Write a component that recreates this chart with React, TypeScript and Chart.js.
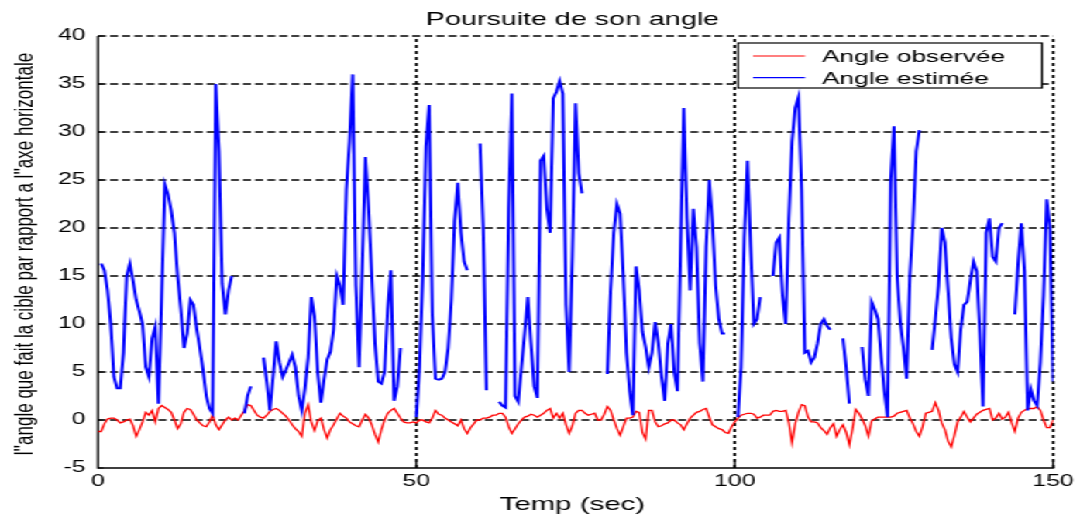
import { useEffect, useRef } from "react";
import { Chart, registerables } from "chart.js";

Chart.register(...registerables);

// The figure is laid out on a narrower canvas and widened horizontally.
const W = 697;
const H = 515;
const STRETCH = 1080 / W;

const FONT = "'Liberation Sans', Arial, Helvetica, sans-serif";

const TITLE = "Poursuite de son angle";
const X_TITLE = "Temp (sec)";
const Y_TITLE = "l''angle que fait la cible par rapport a l''axe horizontale";
const LEGEND_LABELS = ["Angle observée", "Angle estimée"];
const RED = "#ff0000";
const BLUE = "#0000ff";

const X_MIN = 0;
const X_MAX = 150;
const Y_MIN = -5;
const Y_MAX = 40;
const xTicks = [0, 50, 100, 150];
const yTicks = [-5, 0, 5, 10, 15, 20, 25, 30, 35, 40];
const xDividers = [50, 100, 150];

// sampling period of both signals (s)
const STEP = 0.5;

// observed angle, one row = 5 s
const observed = [
  -1.2, -1.2, -0.4, 0.1, 0.2, 0.2, 0, -0.3, -0.2, 0,
  0.1, -0.6, -1.7, -1, -0.2, 0.8, 0.5, 1, -0.2, 1.2,
  1.5, 1.3, 1.1, 0.8, 0, -0.9, -0.4, 0.8, 1.2, 1.1,
  0.6, 0, -0.3, -0.6, -0.7, -0.2, 0.5, -0.5, -1, -0.5,
  0, 0.3, 0, 0.2, 0, 0.5, 1, 1.6, 1.5, 1,
  0.5, 0.3, 0.2, 0.5, 0.9, 1.1, 1.2, 1, 0.7, 0.4,
  0, -0.5, -0.9, -1.2, -1.7, 0.7, 1.6, -0.2, -1.1, -0.1,
  0.2, -1, -1.9, -1, -0.5, 0.1, 0.7, 0.4, 0.2, -0.2,
  -0.4, -0.6, -0.7, 0, 0.6, 0.2, -0.5, -1.5, -2.3, -1,
  0, 0.7, 1, 1.2, 0.7, 0.2, -0.2, -0.3, -0.3, -0.2,
  -0.3, 0, 0, -0.2, -0.3, 0.2, 1, 0.6, 0.5, 0.2,
  0, -0.2, -0.4, -0.6, 0, -0.9, -1.4, -0.8, -0.4, 0,
  0, 0.2, 0.2, 0.3, 0.5, 0.5, 0.7, 0.7, 0.3, -0.7,
  -1.4, -0.9, -0.4, 0, 0.3, 0.4, 0.6, 0.5, 0.3, 0.5,
  0.7, 1, 1.2, 0.2, 0.7, 0.2, 0.7, -0.5, -1.4, -0.6,
  0.7, 1, 1, 0.7, 0.5, 0.6, 0.7, 0, 0, 0.6,
  1.4, 1, 0, -0.9, -1.6, -0.7, 0.2, 0.2, 0.3, 0.9,
  0.8, -1.3, -2, 1, 1, -0.2, -0.7, -0.6, -0.4, -0.3,
  0, 0, -0.3, -0.5, -1, -0.4, 0.2, 0.5, 0.8, 0.9,
  1.1, 1.2, 0.3, -0.5, -0.7, -0.9, -1, -1.3, -1.4, -0.7,
  -0.2, 0.2, 0.5, 0.6, 0.7, 0.7, 0.6, 0.2, 0.3, 0.5,
  0.5, 0.5, 0.9, 1, 0.9, 0.9, 1, -0.3, -2.4, -0.4,
  0.8, 1.6, 1.5, 0.3, -0.2, -0.2, -0.3, -0.8, -1.1, -1.5,
  -0.8, -0.4, -1.7, -1, -0.5, -1.3, -2.6, -0.9, 1.1, 0.7,
  0.1, -0.6, -1.7, -0.1, 0.1, 0.3, 0.3, 0.3, 0.3, 0.3,
  0.4, 0.7, 0.8, 0.9, 1, 0.2, -0.4, -1.2, -1.7, -0.7,
  0.7, 0.8, 0.9, 1.8, 1, -0.3, -1, -2.2, -2.8, -1.6,
  -0.2, 0.3, 0.9, 0.3, -0.2, 0.2, 0.6, 0.8, 1, 1.1,
  1.2, 0, 0.2, 0.7, 0.1, 0.3, 0.8, -0.3, -1.2, 0.2,
  0.8, 1, 1.2, 1.2, 1.2, 1.4, 1, 0, -0.8, -0.8,
  0,
];

// estimated angle, one row = 5 s; null = no estimate (line broken)
const estimated = [
  null, 16.3, 15.6, 13.5, 10, 4.5, 3.3, 3.3, 7, 15,
  16.3, 14.5, 12.5, 11.3, 10, 5.5, 4.5, 8.5, 9.7, 1.7,
  13, 24.5, 23.5, 21.8, 19.5, 15, 11.6, 7.5, 9, 12.5,
  12, 9.5, 7.5, 5.2, 2.5, 1.2, 0.7, 35, 28, 14.2,
  11, 13.5, 15, null, null, null, 0.7, 2.5, 3.5, null,
  null, null, 6.5, 4, 1, 4.5, 8.2, 6, 4.5, 5.2,
  6, 6.8, 5.5, 2.5, 1, 3.3, 6.5, 12.8, 10.8, 5,
  1.8, 4.2, 6.3, 7.1, 9.4, 15, 14, 12, 24, 29,
  36, 14, 5.5, 16, 27.4, 22, 15, 8, 4, 3.8,
  5, 11.5, 15.6, 2, 3.5, 7.5, null, null, null, null,
  0.3, 5.5, 15, 28.5, 32.8, 11, 4.3, 4.2, 4.3, 5,
  7.5, 12.5, 20.7, 24.7, 19.5, 16.5, 15.6, null, null, null,
  28.8, 20, 3.1, null, null, null, 1.9, 1.5, 1.3, 22,
  34, 2.5, 1.9, 5.5, 9, 12.8, 8, 3.5, 2.3, 27,
  27.5, 22, 19.5, 33.5, 34.2, 35.3, 34, 12, 5, 17,
  33, 25.7, 23.6, null, null, null, null, null, null, null,
  4.8, 13.5, 19.5, 22.5, 21.5, 15, 7, 3, 0.5, 16,
  13.5, 9.2, 7.6, 5.5, 7, 10.2, 8, 4.5, 2, 8,
  10, 5, 3, 18, 32.5, 21, 13.5, 22, 18, 8,
  4, 18, 25, 20.5, 14, 10.5, 9, 9, null, null,
  null, 0.3, 5.5, 19, 27, 18, 10, 10.5, 12.8, null,
  null, null, 15, 18.5, 19, 13, 10, 21, 29, 32.5,
  33.6, 24, 7, 7.2, 6, 6.5, 8, 10, 10.5, 9.8,
  9.4, null, null, null, 8.5, 5.5, 1.7, null, null, null,
  7.6, 4.2, 2.5, 12.3, 11.5, 10.5, 6.5, 3, 0.3, 25,
  30.6, 15, 10.2, 7.5, 4.3, 15, 20.5, 28, 30.2, null,
  null, null, 7.3, 10.5, 14, 20, 18.5, 13.5, 8.5, 5.8,
  5, 9.5, 12, 12.3, 14.5, 16.5, 15.5, 9, 1.4, 19.5,
  21, 17, 16.5, 20, 20.5, null, null, null, 11, 16.3,
  20.5, 15.5, 1, 3.2, 2, 1.5, 6, 13, 23, 20,
  4,
];

const toPoints = (values: (number | null)[]) =>
  values.map((v, i) => ({ x: i * STEP, y: v }));

// dashed horizontal grid, dotted time dividers, axes and inner ticks
const framePlugin = {
  id: "frame",
  beforeDatasetsDraw(chart: any) {
    const { ctx, chartArea: a, scales } = chart;
    const xs = scales.x;
    const ys = scales.y;
    ctx.save();
    ctx.strokeStyle = "#000";

    ctx.lineWidth = 1.3;
    ctx.setLineDash([5.2, 2.6]);
    for (const v of yTicks) {
      if (v === Y_MIN) continue;
      const py = ys.getPixelForValue(v);
      ctx.beginPath();
      ctx.moveTo(a.left, py);
      ctx.lineTo(a.right, py);
      ctx.stroke();
    }

    ctx.lineWidth = 1.7;
    ctx.setLineDash([3, 3]);
    for (const v of xDividers) {
      const px = xs.getPixelForValue(v);
      ctx.beginPath();
      ctx.moveTo(px, a.bottom);
      ctx.lineTo(px, a.top);
      ctx.stroke();
    }

    ctx.setLineDash([]);
    ctx.lineWidth = 1.4;
    ctx.beginPath();
    ctx.moveTo(a.left, a.top);
    ctx.lineTo(a.left, a.bottom);
    ctx.lineTo(a.right + 0.7, a.bottom);
    ctx.stroke();

    ctx.lineWidth = 1.2;
    ctx.beginPath();
    for (const v of yTicks) {
      const py = ys.getPixelForValue(v);
      ctx.moveTo(a.left, py);
      ctx.lineTo(a.left + 3.5, py);
    }
    for (const v of xDividers) {
      const px = xs.getPixelForValue(v);
      ctx.moveTo(px, a.bottom);
      ctx.lineTo(px, a.bottom - 6);
    }
    ctx.stroke();
    ctx.restore();
  },
};

// titles and the boxed legend
const textPlugin = {
  id: "texts",
  afterDraw(chart: any) {
    const { ctx, chartArea: a } = chart;
    const cx = (a.left + a.right) / 2;
    ctx.save();
    ctx.fillStyle = "#000";
    ctx.textBaseline = "alphabetic";

    ctx.textAlign = "center";
    ctx.font = `18.5px ${FONT}`;
    ctx.fillText(TITLE, cx - 2, 25);

    ctx.font = `19px ${FONT}`;
    ctx.fillText(X_TITLE, cx - 2, 510);

    ctx.save();
    ctx.translate(20.5, (a.top + a.bottom) / 2 + 2);
    ctx.rotate(-Math.PI / 2);
    ctx.font = `17px ${FONT}`;
    ctx.fillText(Y_TITLE, 0, 0);
    ctx.restore();

    // legend box
    const bx0 = 476.3;
    const bx1 = 672.5;
    const by0 = 43;
    const by1 = 88;
    ctx.fillStyle = "#fff";
    ctx.fillRect(bx0, by0, bx1 - bx0, by1 - by0);
    ctx.strokeStyle = "#000";
    ctx.lineWidth = 1.2;
    ctx.strokeRect(bx0, by0, bx1 - bx0, by1 - by0);

    const rows = [
      { label: LEGEND_LABELS[0], color: RED, y: 56, base: 62 },
      { label: LEGEND_LABELS[1], color: BLUE, y: 77.7, base: 83.6 },
    ];
    ctx.textAlign = "left";
    ctx.font = `17px ${FONT}`;
    for (const r of rows) {
      ctx.strokeStyle = r.color;
      ctx.lineWidth = 1.2;
      ctx.beginPath();
      ctx.moveTo(486, r.y);
      ctx.lineTo(519.5, r.y);
      ctx.stroke();
      ctx.fillStyle = "#000";
      ctx.fillText(r.label, 530.5, r.base);
    }
    ctx.restore();
  },
};

export default function App() {
  const ref = useRef<HTMLCanvasElement>(null);

  useEffect(() => {
    const canvas = ref.current;
    if (!canvas) return;
    const chart = new Chart(canvas, {
      type: "line",
      data: {
        datasets: [
          {
            label: LEGEND_LABELS[0],
            data: toPoints(observed),
            borderColor: RED,
            borderWidth: 1.3,
            pointRadius: 0,
            tension: 0,
            spanGaps: false,
            order: 1,
          },
          {
            label: LEGEND_LABELS[1],
            data: toPoints(estimated),
            borderColor: BLUE,
            borderWidth: 2,
            pointRadius: 0,
            tension: 0,
            spanGaps: false,
            order: 0,
          },
        ],
      },
      options: {
        responsive: false,
        maintainAspectRatio: false,
        animation: false,
        devicePixelRatio: 1,
        layout: { padding: { top: 36, right: W - 1054 / STRETCH, bottom: 0, left: 0 } },
        plugins: {
          legend: { display: false },
          title: { display: false },
          tooltip: { enabled: false },
        },
        scales: {
          x: {
            type: "linear",
            min: X_MIN,
            max: X_MAX,
            afterBuildTicks: (scale: any) => {
              scale.ticks = xTicks.map((v) => ({ value: v }));
            },
            afterFit: (scale: any) => {
              scale.height = H - 468;
            },
            grid: { display: false, drawTicks: false },
            border: { display: false },
            ticks: {
              color: "#000",
              padding: 4,
              maxRotation: 0,
              font: { family: FONT, size: 16 },
            },
          },
          y: {
            type: "linear",
            min: Y_MIN,
            max: Y_MAX,
            afterBuildTicks: (scale: any) => {
              scale.ticks = yTicks.map((v) => ({ value: v }));
            },
            afterFit: (scale: any) => {
              scale.width = 98 / STRETCH;
            },
            grid: { display: false, drawTicks: false },
            border: { display: false },
            ticks: {
              color: "#000",
              padding: 8,
              font: { family: FONT, size: 16 },
            },
          },
        },
      },
      plugins: [framePlugin, textPlugin],
    });
    return () => chart.destroy();
  }, []);

  return (
    <div
      style={{
        position: "absolute",
        left: 0,
        top: 0,
        width: W,
        height: H,
        background: "#fff",
        transform: `scaleX(${STRETCH})`,
        transformOrigin: "0 0",
      }}
    >
      <canvas
        ref={ref}
        width={W}
        height={H}
        style={{ display: "block", width: W, height: H }}
      />
    </div>
  );
}
